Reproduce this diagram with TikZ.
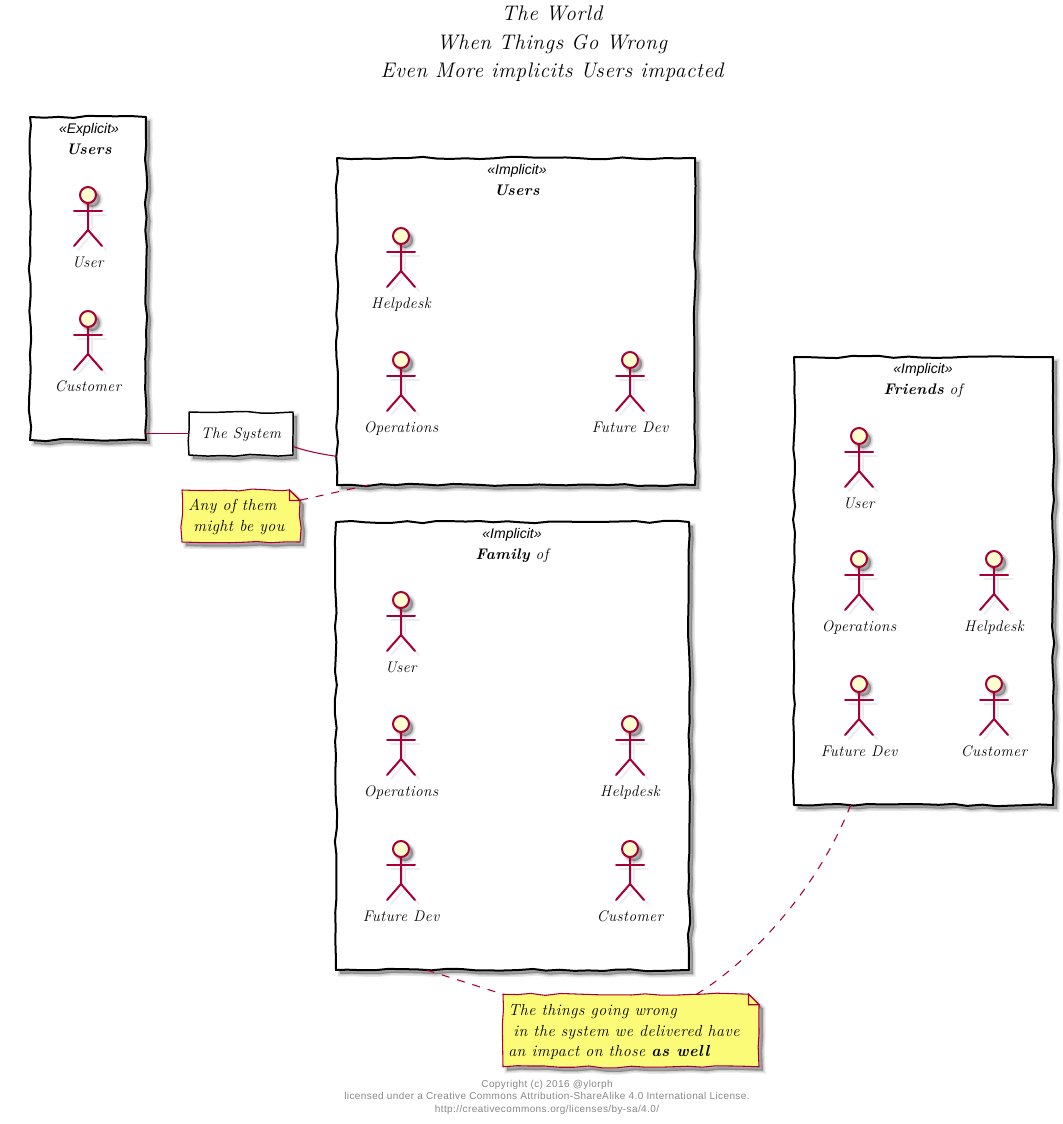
\documentclass[tikz,border=0pt]{standalone}
\usepackage{fontspec}
\setmainfont{Latin Modern Roman}[LetterSpace=3]
\newfontfamily\stereofont{Liberation Sans}
\newfontfamily\footfont{Liberation Sans}[LetterSpace=4]
\usetikzlibrary{decorations.pathmorphing,shadows,calc}
\definecolor{umlred}{HTML}{A80036}
\definecolor{umlhead}{HTML}{FEFECE}
\definecolor{umlnote}{HTML}{FBFB77}
\definecolor{umlfoot}{HTML}{888888}
\tikzset{
  softshadow/.style={
    general shadow={shadow xshift=3pt,shadow yshift=-3pt,fill=black,draw=black,line width=4pt,opacity=.09},
    general shadow={shadow xshift=3pt,shadow yshift=-3pt,fill=black,draw=black,line width=2pt,opacity=.11},
    general shadow={shadow xshift=3pt,shadow yshift=-3pt,fill=black,draw=none,opacity=.14}},
  wavy/.style={decoration={random steps,segment length=10.7pt,amplitude=.9pt},line join=round,line cap=round},
  boxarea/.style={rectangle,inner sep=0pt,outer sep=0pt},
  pkgpath/.style={draw=black,fill=white,line width=1.5pt,wavy,softshadow},
  syspath/.style={draw=black,fill=white,line width=1.1pt,wavy,softshadow},
  systext/.style={inner sep=0pt,font=\handlbl},
  notepath/.style={draw=umlred,fill=umlnote,line width=.8pt,wavy,softshadow},
  foldpath/.style={draw=umlred,fill=umlnote,line width=.8pt},
  notetext/.style={anchor=north west,align=left,inner sep=0pt,font=\handnote},
  stereo/.style={inner sep=0pt,font=\stereofont\itshape\fontsize{10.5}{12}\selectfont},
  pkgname/.style={anchor=base,inner sep=0pt,font=\handlbl},
  actorhead/.style={circle,draw=umlred,fill=umlhead,line width=1.5pt,minimum size=12pt,inner sep=0pt,outer sep=0pt,softshadow},
  actorline/.style={draw=umlred,line width=1.5pt,line cap=round},
  actorshade/.style={draw=black,opacity=.07,line width=1.5pt,line cap=round},
  actorlabel/.style={anchor=base,inner sep=0pt,font=\handlbl},
  conn/.style={draw=umlred,line width=.8pt},
  noteconn/.style={draw=umlred,line width=.8pt,dash pattern=on 6pt off 6pt},
  titletext/.style={align=center,inner sep=0pt,font=\itshape\fontsize{15.8}{21.4}\selectfont},
  foottext/.style={align=center,inner sep=0pt,text=umlfoot,font=\footfont\fontsize{7.5}{9.4}\selectfont},
}
\newcommand\handlbl{\itshape\fontsize{11.5}{14}\selectfont}
\newcommand\handnote{\itshape\fontsize{12}{15.6}\selectfont}
\newcommand\wavyrect[2]{\path[#2] (#1.north west) decorate {-- (#1.north east)} decorate {-- (#1.south east)} decorate {-- (#1.south west)} decorate {-- (#1.north west)};}
\newcommand\pkgat[5]{\node[boxarea,minimum width={(#4-#2)*.75pt},minimum height={(#5-#3)*.75pt}] (#1) at ({(#2+#4)/2},{(#3+#5)/2}) {};\wavyrect{#1}{pkgpath}}
\newcommand\notepathat[2]{%
  \path[notepath] (#1.north west) decorate {-- ([shift={(-#2,0)}]#1.north east)} -- ([shift={(0,#2)}]#1.north east) decorate {-- (#1.south east)} decorate {-- (#1.south west)} decorate {-- (#1.north west)};
  \path[foldpath] ([shift={(-#2,0)}]#1.north east) -- ([shift={(-#2,#2)}]#1.north east) -- ([shift={(0,#2)}]#1.north east) -- cycle;}
\newcommand\actorfig[4]{%
  \draw[actorshade] ([shift={(4,11)}]#2,#3) -- ++(0,24) ([shift={(-10,20)}]#2,#3) -- ++(28,0) ([shift={(4,39)}]#2,#3) -- ++(-14,16) ([shift={(4,39)}]#2,#3) -- ++(14,16);
  \node[actorhead] (#1) at (#2,#3) {};
  \draw[actorline] (#1.south) -- ++(0,27) -- ++(-14,16);
  \draw[actorline] ([shift={(-14,16)}]#1.center) -- ++(28,0);
  \draw[actorline] ([shift={(0,35)}]#1.center) -- ++(14,16);
  \node[actorlabel] (#1l) at ([shift={(0,72.3)}]#1.center) {#4};
}
\begin{document}
\begin{tikzpicture}[x=.75pt,y=-.75pt]
\pgfmathsetseed{42}
\useasboundingbox (0,0) rectangle (1063,1124);
\fill[white] (0,0) rectangle (1063,1124);

\node[titletext] (title) at (552,44) {The World\\When Things Go Wrong\\Even More implicits Users impacted};

% packages
\pkgat{pa}{30}{117}{146}{440}
\node[stereo] (pas) at (89,130) {«Explicit»};
\node[pkgname] (pan) at (89,154.5) {\bfseries Users};
\actorfig{aa}{88}{195}{User}
\actorfig{ab}{88}{319}{Customer}

\pkgat{pb}{337}{158}{695}{485}
\node[stereo] (pbs) at (517,171) {«Implicit»};
\node[pkgname] (pbn) at (517,195.5) {\bfseries Users};
\actorfig{ba}{401}{236}{Helpdesk}
\actorfig{bb}{401}{360}{Operations}
\actorfig{bc}{630}{360}{Future Dev}

\pkgat{pc}{336}{522}{689}{970}
\node[stereo] (pcs) at (512,535) {«Implicit»};
\node[pkgname] (pcn) at (512,559.5) {\textbf{Family} of};
\actorfig{ca}{401}{600}{User}
\actorfig{cb}{401}{724}{Operations}
\actorfig{cc}{630}{724}{Helpdesk}
\actorfig{cd}{401}{849}{Future Dev}
\actorfig{ce}{630}{849}{Customer}

\pkgat{pd}{794}{357}{1053}{805}
\node[stereo] (pds) at (923,370) {«Implicit»};
\node[pkgname] (pdn) at (923,394.5) {\textbf{Friends} of};
\actorfig{da}{859}{436}{User}
\actorfig{db}{859}{559}{Operations}
\actorfig{dc}{994}{559}{Helpdesk}
\actorfig{dd}{859}{684}{Future Dev}
\actorfig{de}{994}{684}{Customer}

% system
\node[boxarea,minimum width=78pt,minimum height=32.25pt] (sys) at (241,433.5) {};
\wavyrect{sys}{syspath}
\node[systext] (syst) at (241,434.5) {The System};

% note 1
\node[boxarea,minimum width=88.5pt,minimum height=39pt] (na) at (241,516) {};
\notepathat{na}{10.5}
\node[notetext] (nat) at (188,499) {Any of them\\\hspace*{3.75pt}might be you};

% note 2
\node[boxarea,minimum width=192pt,minimum height=54.4pt] (nb) at (631,1030.5) {};
\notepathat{nb}{10.5}
\node[notetext] (nbt) at (508,1004) {The things going wrong\\\hspace*{3.75pt}in the system we delivered have\\an impact on those \textbf{as well}};

% connectors
\draw[conn] (pa.east |- sys.west) -- (sys.west);
\draw[conn] (sys.-14.6) .. controls ([shift={(14,5)}]sys.-14.6) and ([shift={(-14,-2)}]pb.217.3) .. (pb.217.3);
\draw[noteconn] (na.15.2) -- (pb.228.2);
\draw[noteconn] (pc.249.8) -- (nb.north west);
\draw[noteconn] (nb.29.7) .. controls (745,965) and (815,895) .. (pd.252.3);

\node[foottext] (foot) at (547,1097) {Copyright (c) 2016 @ylorph\\licensed under a Creative Commons Attribution-ShareAlike 4.0 International License.\\http://creativecommons.org/licenses/by-sa/4.0/};
\end{tikzpicture}
\end{document}
